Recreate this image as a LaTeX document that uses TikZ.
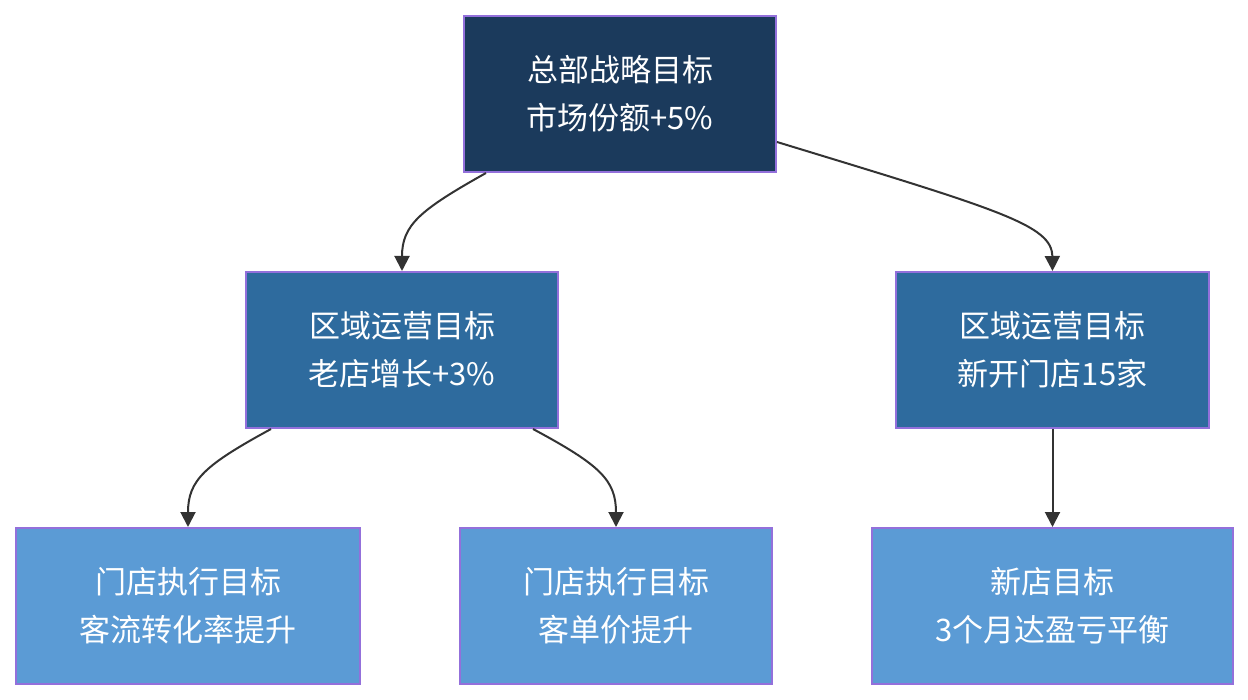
\documentclass[tikz,border=0pt]{standalone}
\usepackage{fontspec}
\setmainfont{Noto Sans CJK SC}
\usetikzlibrary{arrows.meta}
\definecolor{topc}{HTML}{1B3A5C}
\definecolor{midc}{HTML}{2E6B9E}
\definecolor{botc}{HTML}{5B9BD5}
\definecolor{bord}{HTML}{9370DB}
\definecolor{edge}{HTML}{333333}
\begin{document}
\begin{tikzpicture}[x=1pt,y=1pt,
  box/.style={draw=bord,line width=2pt,rectangle,inner sep=0pt,text=white,
    font=\fontsize{31}{48}\selectfont,align=center},
  conn/.style={draw=edge,line width=2pt,-{Triangle[length=15pt,width=15pt]}}]
\useasboundingbox (0,0) rectangle (1248,-700);
\node[box,fill=topc,minimum width=312pt,minimum height=156pt] (top) at (620,-94) {总部战略目标\\市场份额+5\%};
\node[box,fill=midc,minimum width=312pt,minimum height=156pt] (ml) at (402,-350) {区域运营目标\\老店增长+3\%};
\node[box,fill=midc,minimum width=313pt,minimum height=156pt] (mr) at (1052.5,-350) {区域运营目标\\新开门店15家};
\node[box,fill=botc,minimum width=344pt,minimum height=156pt] (bl) at (188,-606) {门店执行目标\\客流转化率提升};
\node[box,fill=botc,minimum width=312pt,minimum height=156pt] (bm) at (616,-606) {门店执行目标\\客单价提升};
\node[box,fill=botc,minimum width=361pt,minimum height=156pt] (br) at (1052.5,-606) {新店目标\\3个月达盈亏平衡};
\draw[conn] ([xshift=23pt]top.south west) .. controls (420,-210) and (402,-225) .. (ml.north);
\draw[conn] ([yshift=31pt]top.south east) .. controls (1000,-210) and (1052,-225) .. (mr.north);
\draw[conn] ([xshift=26pt]ml.south west) .. controls (205,-465) and (188,-480) .. (bl.north);
\draw[conn] ([xshift=-26pt]ml.south east) .. controls (600,-465) and (616,-480) .. (bm.north);
\draw[conn] (mr.south) -- (br.north);
\end{tikzpicture}
\end{document}
